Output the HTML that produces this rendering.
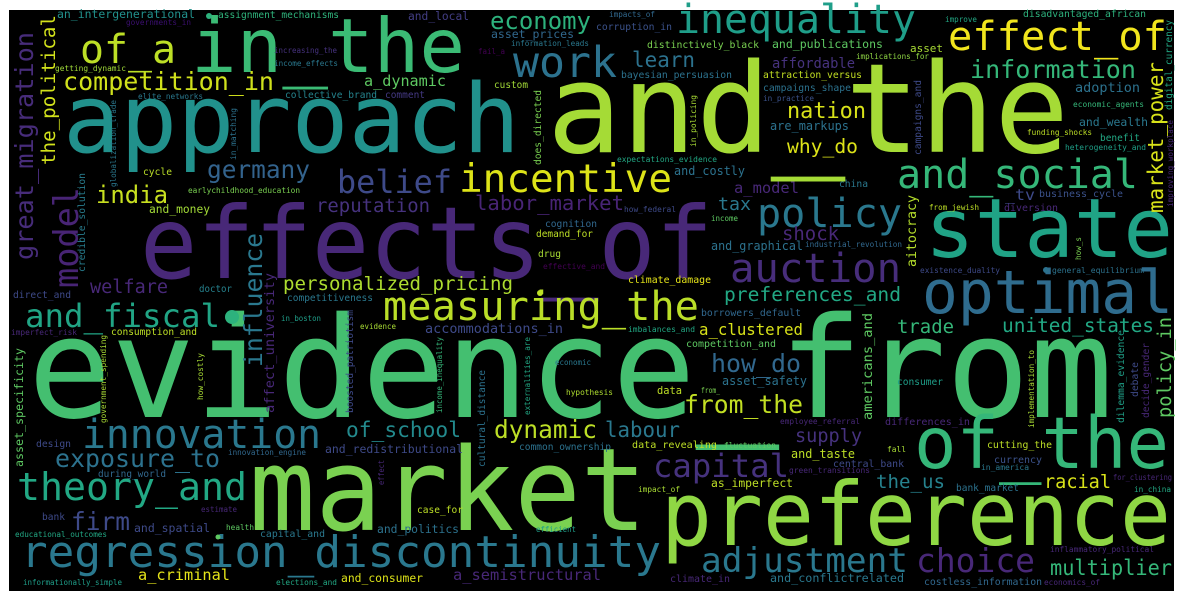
<!DOCTYPE html>
<html>
<head>
<meta charset="utf-8">
<style>
html,body{margin:0;padding:0;background:#fff;}
svg{display:block;}
text{font-family:"DejaVu Sans Mono","Liberation Mono",monospace;}
</style>
</head>
<body>
<svg id="cloud" width="1182" height="601" viewBox="0 0 1182 601" xmlns="http://www.w3.org/2000/svg">
<rect x="9" y="10" width="1165" height="581" fill="#000"/>
<g id="words"></g>
</svg>
<script>
// Horizontal words: [text, fontSize, color, left, baseline, width]
const horizontalWords = [
["evidence_from",140,"#44bf70",28,417,1085],
["market",115,"#7ad151",249,530,398],
["preference",88,"#8fd744",661,545,510],
["and_the",124,"#a5db36",547,152,522],
["approach",95,"#21918c",63,152,457],
["effects_of",100,"#482878",140,278,573],
["in_the",75,"#3bbb75",191,72,274],
["of_the",71,"#35b779",914,468,255],
["state",82,"#20a386",925,257,248],
["optimal",60,"#2f6c8e",922,313,251],
["regression_discontinuity",44,"#2a788e",21,567,640],
["inequality",40,"#1f9e89",676,33,240],
["effect_of",40,"#f1e51d",948,50,219],
["and_social",40,"#35b779",897,188,241],
["policy",40,"#2a788e",757,227,145],
["auction",40,"#472d7b",730,282,171],
["innovation",40,"#2a788e",82,448,239],
["measuring_the",40,"#bade28",383,320,316],
["theory_and",38,"#22a884",17,500,230],
["incentive",39,"#dde318",459,192,213],
["work",43,"#2c728e",513,77,104],
["of_a",40,"#bddf26",80,63,96],
["and_fiscal",32,"#21a585",25,327,195],
["adjustment",34,"#2a788e",701,572,207],
["choice",33,"#482878",916,572,119],
["capital",32,"#46327e",653,477,136],
["belief",32,"#3e4a89",337,193,115],
["competition_in",25,"#d0e11c",63,90,211],
["economy",24,"#2db27d",490,29,101],
["information",25,"#35b779",970,78,166],
["exposure_to",25,"#2c728e",55,467,165],
["germany",24.5,"#33638d",207,178,103],
["dynamic",24.5,"#bddf26",494,438,103],
["from_the",24.7,"#c2df23",684,413,119],
["how_do",25,"#31688e",711,372,90],
["firm",24.5,"#3e4a89",71,530,59],
["india",24,"#c8e020",96,203,72],
["nation",22,"#d8e219",787,118,79],
["of_school",21,"#238a8d",346,437,115],
["labour",21,"#2a788e",605,437,75],
["learn",21,"#2c728e",632,67,63],
["multiplier",21,"#35b779",1050,575,122],
["labor_market",20.6,"#482475",475,210,149],
["why_do",19.7,"#dde318",787,153,71],
["preferences_and",19.6,"#22a884",724,301,177],
["united_states",19.4,"#22a884",1002,332,152],
["personalized_pricing",19,"#addc30",283,290,230],
["reputation",19,"#46327e",316,212,114],
["shock",19,"#482878",782,240,57],
["trade",19,"#35b779",897,333,57],
["the_us",19,"#26828e",876,488,69],
["supply",18.6,"#46327e",795,442,67],
["racial",18.6,"#d8e219",1044,488,67],
["welfare",18.5,"#482878",90,293,78],
["tax",18,"#2a788e",718,210,33],
["a_clustered",15.7,"#d8e219",699,335,104],
["a_model",15.5,"#482878",734,193,65],
["a_semistructural",15.4,"#482878",453,580,148],
["a_criminal",15.3,"#e5e419",138,580,92],
["a_dynamic",15,"#5ec962",364,86,82],
["_tv",15,"#3e4a89",1005,200,30],
["affordable",13.8,"#46327e",772,68,83],
["accommodations_in",13.5,"#3e4a89",425,333,138],
["adoption",13.5,"#2c728e",1075,92,65],
["are_markups",12,"#2c728e",770,130,79],
["and_costly",12,"#2c728e",674,175,71],
["and_graphical",12,"#2c728e",711,250,92],
["asset_safety",12,"#2c728e",722,385,85],
["and_taste",12,"#bddf26",791,458,64],
["and_conflictrelated",11.7,"#2a788e",770,582,134],
["an_intergenerational",11.5,"#21918c",57,18,138],
["asset_prices",11.5,"#31688e",491,38,83],
["and_publications",11.5,"#5ec962",772,48,111],
["and_wealth",11.5,"#2a788e",1079,126,69],
["and_redistributional",11.5,"#3e4a89",325,453,138],
["and_spatial",11.5,"#3e4a89",134,532,76],
["and_politics",11.4,"#2c728e",377,533,82],
["and_consumer",11.4,"#dde318",341,582,82],
["as_imperfect",11.4,"#bddf26",711,487,82],
["and_local",11.3,"#433e85",408,20,61],
["and_money",11.3,"#a2da37",149,213,61],
["asset",11,"#a8db34",910,52,33],
["data",10.4,"#bddf26",657,394,25],
["business_cycle",10,"#3b528b",1039,197,84],
["diversion",10,"#482878",1004,211,54],
["differences_in",10,"#482878",885,425,85],
["data_revealing",10,"#bddf26",632,448,85],
["cutting_the",10,"#bddf26",987,448,65],
["currency",10,"#3b528b",994,463,48],
["climate_in",10,"#482878",670,582,60],
["competition_and",9.8,"#5ec962",686,347,90],
["climate_damage",9.8,"#e5e419",628,283,83],
["distinctively_black",9.8,"#7ad151",647,48,112],
["capital_and",9.8,"#2a788e",260,537,65],
["costless_information",9.8,"#31688e",924,585,118],
["central_bank",9.8,"#3e4a89",833,467,71],
["corruption_in",9.7,"#3b528b",596,30,76],
["disadvantaged_african",9.7,"#2db27d",1023,17,123],
["bayesian_persuasion",9.7,"#2c728e",621,78,111],
["attraction_versus",9.7,"#c2df23",763,78,99],
["campaigns_shape",9.7,"#2c728e",763,91,88],
["borrowers_default",9.7,"#31688e",701,316,100],
["china",9.7,"#2a788e",839,187,29],
["design",9.7,"#3e4a89",36,447,35],
["assignment_mechanisms",9.6,"#2fb47c",218,18,121],
["collective_brand",9.6,"#25848e",285,98,92],
["cognition",9.6,"#31688e",545,227,52],
["drug",9.6,"#a8db34",538,257,23],
["direct_and",9.6,"#3e4a89",13,298,58],
["cycle",9.6,"#bade28",143,175,29],
["bank",9.6,"#3e4a89",42,520,23],
["case_for",9.6,"#bddf26",417,513,46],
["common_ownership",9.6,"#2c728e",519,450,92],
["consumer",9.6,"#1f9e89",897,385,46],
["custom",9.5,"#a2da37",494,88,34],
["comment",9.5,"#443983",385,98,40],
["demand_for",9.5,"#bddf26",536,237,57],
["competitiveness",9.5,"#2a788e",287,301,86],
["consumption_and",9.5,"#bddf26",111,335,86],
["benefit",9.5,"#22a884",1100,141,40],
["bank_market",9.5,"#2c728e",956,491,63],
["during_world",9.4,"#31688e",98,477,68],
["doctor",9.3,"#26828e",199,292,33],
["governments_in",7.6,"#3b0f70",126,25,65],
["information_leads",7.6,"#2a788e",511,46,78],
["getting_dynamic",7.6,"#a0da39",55,71,71],
["increasing_the",7.6,"#46327e",274,53,63],
["income_effects",7.6,"#2a788e",274,66,64],
["fail_a",7.6,"#440154",478,54,27],
["elite_networks",7.6,"#2a788e",138,99,65],
["earlychildhood_education",7.6,"#7ad151",188,193,112],
["effective_and",7.6,"#440154",543,269,62],
["impacts_of",7.6,"#31688e",609,17,46],
["improve",7.6,"#22a884",945,22,32],
["implications_for",7.6,"#8fd744",856,59,73],
["in_practice",7.6,"#3b528b",763,101,51],
["economic_agents",7.6,"#35b779",1073,107,71],
["funding_shocks",7.6,"#bddf26",1027,135,65],
["heterogeneity_and",7.6,"#1fa088",1065,150,81],
["expectations_evidence",7.6,"#22a884",617,162,100],
["how_federal",7.6,"#3e4a89",624,212,52],
["from_jewish",7.6,"#bddf26",929,210,50],
["income",7.6,"#5ec962",711,221,27],
["industrial_revolution",7.6,"#31688e",805,247,97],
["existence_duality",7.6,"#3e4a89",920,273,80],
["general_equilibrium",7.6,"#2c728e",1052,273,92],
["imperfect_risk",7.6,"#482878",11,335,66],
["in_boston",7.6,"#1f9e89",281,321,40],
["evidence",7.6,"#a8db34",360,329,36],
["economic",7.6,"#2a788e",555,365,36],
["hypothesis",7.6,"#addc30",566,395,47],
["innovation_engine",7.6,"#31688e",228,455,78],
["estimate",7.6,"#482878",201,512,36],
["health",7.6,"#5ec962",226,530,28],
["efficient",7.6,"#1f9e89",536,532,40],
["educational_outcomes",7.6,"#22a884",15,537,92],
["informationally_simple",7.6,"#1f9e89",23,585,99],
["elections_and",7.6,"#22a884",276,585,61],
["imbalances_and",7.6,"#22a884",628,332,67],
["from_",7.6,"#7ad151",701,393,19],
["employee_referral",7.6,"#482878",780,424,80],
["fluctuation",7.6,"#5ec962",724,448,52],
["fall",7.6,"#a8db34",887,452,19],
["green_transitions",7.6,"#482878",789,473,81],
["in_america",7.6,"#2a788e",981,470,48],
["for_clustering",7.6,"#482878",1113,480,59],
["impact_of",7.6,"#a8db34",638,492,42],
["in_china",7.6,"#22a884",1134,492,37],
["inflammatory_political",7.6,"#482878",1050,552,104],
["economics_of",7.6,"#482878",1044,585,56]
];
// Vertical words (read bottom-to-top): [text, fontSize, color, baselineX, startY, length]
const verticalWords = [
["the_political",18.5,"#d2e21b",55,165,150],
["great_migration",25,"#472c7a",33,260,228],
["model",34,"#482475",78,288,101],
["credible_solution",9.7,"#287d8e",85,272,99],
["globalization_trade",7.6,"#2a788e",116,187,87],
["in_matching",7.9,"#2c728e",236,160,52],
["does_directed",9.6,"#7ad151",541,165,75],
["influence",25,"#2a788e",262,367,134],
["affect_university",13.7,"#482878",274,413,140],
["digital_currency",9.4,"#22a884",1172,110,90],
["market_power",21,"#d8e219",1163,213,151],
["campaigns_and",9.6,"#3e4a89",921,155,75],
["in_policing",7.7,"#a8db34",696,147,52],
["improving_workplace",7.6,"#482878",1173,207,87],
["aitocracy",13.3,"#b5de2b",916,267,72],
["how_s",7.7,"#7ad151",1081,260,23],
["asset_specificity",11.7,"#5ec962",23,467,119],
["government_spending",7.7,"#a8db34",106,423,88],
["how_costly",7.7,"#a8db34",203,400,47],
["boosted_patriotism",9.5,"#3e4a89",353,413,103],
["income_inequality",7.6,"#35b779",442,413,76],
["externalities_are",7.6,"#22a884",530,415,78],
["cultural_distance",9.5,"#2c728e",485,467,97],
["effect",7.5,"#482878",384,485,25],
["policy_in",18.7,"#5ec962",1171,418,101],
["americans_and",13.7,"#5ec962",872,420,107],
["implementation_to",7.6,"#a8db34",1034,428,78],
["dilemma_evidence",9.6,"#1fa088",1124,423,93],
["debate",9.6,"#3e4a89",1138,397,35],
["decide_gender",9.6,"#482878",1149,418,75]
];
// Stray dots: [cx, cy, r, color]
const dots = [[209,16,3,"#2db27d"],[232,317,7,"#2db27d"],[540,293,3,"#bddf26"],[1046,270,3,"#2c728e"],[218,537,2.5,"#5ec962"]];

const NS = "http://www.w3.org/2000/svg";
const layer = document.getElementById("words");

horizontalWords.forEach(function(w){
  const t = document.createElementNS(NS, "text");
  t.setAttribute("x", w[3]);
  t.setAttribute("y", w[4]);
  t.setAttribute("font-size", w[1]);
  t.setAttribute("fill", w[2]);
  t.setAttribute("textLength", w[5]);
  t.setAttribute("lengthAdjust", "spacingAndGlyphs");
  t.textContent = w[0];
  
  
  layer.appendChild(t);
});

verticalWords.forEach(function(w){
  const t = document.createElementNS(NS, "text");
  t.setAttribute("x", 0);
  t.setAttribute("y", 0);
  t.setAttribute("transform", "translate(" + w[3] + "," + w[4] + ") rotate(-90)");
  t.setAttribute("font-size", w[1]);
  t.setAttribute("fill", w[2]);
  t.setAttribute("textLength", w[5]);
  t.setAttribute("lengthAdjust", "spacingAndGlyphs");
  t.textContent = w[0];
  
  
  layer.appendChild(t);
});

dots.forEach(function(d){
  const c = document.createElementNS(NS, "circle");
  c.setAttribute("cx", d[0]);
  c.setAttribute("cy", d[1]);
  c.setAttribute("r", d[2]);
  c.setAttribute("fill", d[3]);
  
  
  layer.appendChild(c);
});
</script>
</body>
</html>
